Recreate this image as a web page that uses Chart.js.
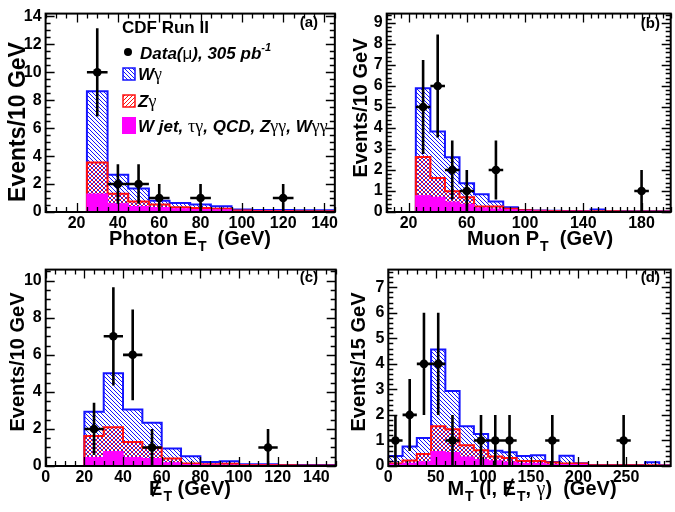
<!DOCTYPE html>
<html><head><meta charset="utf-8">
<script src="https://cdn.jsdelivr.net/npm/chart.js@4.4.1/dist/chart.umd.min.js"></script>
<style>
html,body{margin:0;padding:0;background:#fff}
body{width:675px;height:512px;position:relative;overflow:hidden;font-family:"Liberation Sans",Arial,Helvetica,sans-serif;color:#000}
.pan{position:absolute}
.t{position:absolute;transform:translateX(-50%);font-weight:bold;font-size:20px;line-height:20px;white-space:nowrap}
.yt{position:absolute;transform:translate(-50%,-50%) rotate(-90deg);font-weight:bold;font-size:20px;line-height:20px;white-space:nowrap}
.sub{font-size:14px;position:relative;top:6px;margin-left:1px}
.met{position:relative;display:inline-block}
.met::after{content:'';position:absolute;left:45%;top:0px;width:2px;height:19px;background:#000;transform:rotate(22deg)}
.gr{font-family:"Liberation Serif",serif;font-weight:normal}
</style></head><body>
<div class="pan" style="left:0;top:0;width:340px;height:256px"><canvas id="ca"></canvas></div>
<div class="pan" style="left:340px;top:0;width:335px;height:256px"><canvas id="cb"></canvas></div>
<div class="pan" style="left:0;top:256px;width:340px;height:256px"><canvas id="cc"></canvas></div>
<div class="pan" style="left:340px;top:256px;width:335px;height:256px"><canvas id="cd"></canvas></div>

<div class="t" style="left:190px;top:228px">Photon E<span class="sub">T</span>&nbsp;&nbsp;(GeV)</div>
<div class="t" style="left:540px;top:228px">Muon P<span class="sub">T</span>&nbsp;&nbsp;(GeV)</div>
<div class="t" style="left:190px;top:478px"><span class="met">E</span><span class="sub">T</span> (GeV)</div>
<div class="t" style="left:532px;top:478px">M<span class="sub">T</span> (l, <span class="met">E</span><span class="sub">T</span>, <span class="gr">γ</span>)&nbsp;&nbsp;(GeV)</div>

<div class="yt" style="left:17px;top:122px;font-size:23px">Events/10 GeV</div>
<div class="yt" style="left:360px;top:108px">Events/10 GeV</div>
<div class="yt" style="left:17px;top:362px">Events/10 GeV</div>
<div class="yt" style="left:358px;top:362px">Events/15 GeV</div>

<script>
// ---------------- DATA ----------------
// (a) Photon ET, 10 GeV bins (low edges)
const aBinLow = [5,15,25,35,45,55,65,75,85,95,105,115,125,135];
const aWgamma = [0,0,5.10,1.37,0.94,0.27,0.30,0.25,0.18,0.07,0.07,0.07,0.06,0.06];
const aZgamma = [0,0,2.26,0.71,0.36,0.22,0.11,0.10,0.08,0.05,0.04,0.03,0.03,0.03];
const aOther  = [0,0,1.29,0.59,0.39,0.32,0.23,0.18,0.15,0.05,0.04,0.04,0.03,0.03];
const aDataX  = [30,40,50,60,80,120];
const aDataY  = [10,2,2,1,1,1];
const aDataErr= [3.16,1.41,1.41,1,1,1];
const aXTicks = [20,40,60,80,100,120,140];
const aYTicks = [0,2,4,6,8,10,12,14];

// (b) Muon PT, 10 GeV bins
const bBinLow = [5,15,25,35,45,55,65,75,85,95,105,115,125,135,145,155,165,175,185,195];
const bWgamma = [0,0,3.28,2.21,1.62,0.67,0.58,0.24,0.08,0.02,0.01,0.01,0.01,0.01,0.08,0.01,0.01,0.01,0.01,0.01];
const bZgamma = [0,0,1.85,0.92,0.52,0.34,0.08,0.12,0.05,0.03,0.02,0.02,0.01,0.01,0.02,0.01,0.01,0.01,0.01,0.01];
const bOther  = [0,0,0.77,0.70,0.47,0.36,0.18,0.14,0.10,0.05,0.04,0.03,0.03,0.03,0.02,0.02,0.01,0.01,0.01,0.01];
const bDataX  = [30,40,50,60,80,180];
const bDataY  = [5,6,2,1,2,1];
const bDataErr= [2.24,2.45,1.41,1,1.41,1];
const bXTicks = [20,60,100,140,180];
const bYTicks = [0,1,2,3,4,5,6,7,8,9];

// (c) Missing ET, 10 GeV bins
const cBinLow = [0,10,20,30,40,50,60,70,80,90,100,110,120,130,140];
const cWgamma = [0,0,1.31,2.91,1.75,1.35,0.55,0.38,0.12,0.14,0.05,0.05,0.02,0.02,0.02];
const cZgamma = [0,0,1.17,1.31,0.85,0.58,0.23,0.06,0.05,0.07,0.02,0.02,0.02,0.01,0.01];
const cOther  = [0,0,0.45,0.78,0.45,0.40,0.17,0.08,0.05,0.05,0.03,0.03,0.02,0.02,0.02];
const cDataX  = [25,35,45,55,115];
const cDataY  = [2,7,6,1,1];
const cDataErr= [1.41,2.65,2.45,1,1];
const cXTicks = [0,20,40,60,80,100,120,140];
const cYTicks = [0,2,4,6,8,10];

// (d) MT(l, MET, gamma), 15 GeV bins
const dBinLow = [0,15,30,45,60,75,90,105,120,135,150,165,180,195,210,225,240,255,270,285];
const dWgamma = [0.29,0.54,0.63,3.00,1.50,0.75,0.63,0.23,0.23,0.19,0.22,0.02,0.30,0.01,0.01,0.01,0.01,0.01,0.12,0.01];
const dZgamma = [0.04,0.12,0.31,1.00,0.92,0.46,0.37,0.17,0.16,0.10,0.10,0.09,0.05,0.05,0.01,0.01,0.01,0.01,0.01,0.01];
const dOther  = [0.06,0.10,0.16,0.56,0.52,0.35,0.25,0.20,0.15,0.10,0.10,0.05,0.05,0.05,0.02,0.02,0.02,0.02,0.02,0.01];
const dDataX  = [7.5,22.5,37.5,52.5,67.5,97.5,112.5,127.5,172.5,247.5];
const dDataY  = [1,2,4,4,1,1,1,1,1,1];
const dDataErr= [1,1.41,2,2,1,1,1,1,1,1];
const dXTicks = [0,50,100,150,200,250];
const dYTicks = [0,1,2,3,4,5,6,7];

// ---------------- STYLE ----------------
const FONT = '"Liberation Sans", Arial, Helvetica, sans-serif';
Chart.defaults.font.family = FONT;
Chart.defaults.color = '#000';
const BLUE = '#1414ff', RED = '#ff1010', MAG = '#ff00ff';

function hatch(color, dir) {
  const s = 4, c = document.createElement('canvas');
  c.width = s; c.height = s;
  const g = c.getContext('2d');
  g.strokeStyle = color; g.lineWidth = 1; g.beginPath();
  if (dir > 0) {
    g.moveTo(-1,-1); g.lineTo(s+1,s+1);
    g.moveTo(-1,s-1); g.lineTo(1,s+1);
    g.moveTo(s-1,-1); g.lineTo(s+1,1);
  } else {
    g.moveTo(-1,s+1); g.lineTo(s+1,-1);
    g.moveTo(-1,1); g.lineTo(1,-1);
    g.moveTo(s-1,s+1); g.lineTo(s+1,s-1);
  }
  g.stroke();
  return document.createElement('canvas').getContext('2d').createPattern(c, 'repeat');
}
const blueHatch = hatch(BLUE, 1);
const redHatch = hatch(RED, -1);

function histPoints(low, width, vals) {
  const pts = low.map((x, i) => ({x: x, y: vals[i]}));
  pts.push({x: low[low.length-1] + width, y: vals[vals.length-1]});
  return pts;
}
function errPoints(xs, ys, es, hw) {
  const pts = [];
  xs.forEach((x, i) => {
    pts.push({x: x, y: ys[i]-es[i]}, {x: x, y: ys[i]+es[i]}, {x: x, y: null});
    pts.push({x: x-hw, y: ys[i]}, {x: x+hw, y: ys[i]}, {x: x+hw+0.001, y: null});
  });
  return pts;
}

function framePlugin(cfg) {
  return {
    id: 'frame',
    afterDatasetsDraw(chart) {
      const {ctx, chartArea: a, scales: {x, y}} = chart;
      ctx.save();
      ctx.strokeStyle = '#000'; ctx.lineWidth = 1.3; ctx.beginPath();
      const near = (arr, v) => arr.some(t => Math.abs(t - v) < 1e-6);
      for (let n = Math.ceil(x.min / cfg.xMinor - 1e-9); n * cfg.xMinor <= x.max + 1e-9; n++) {
        const v = n * cfg.xMinor, p = Math.round(x.getPixelForValue(v)) + 0.5;
        const L = near(cfg.xTicks, v) ? 9 : 5;
        ctx.moveTo(p, a.bottom); ctx.lineTo(p, a.bottom - L);
        ctx.moveTo(p, a.top); ctx.lineTo(p, a.top + L);
      }
      for (let n = Math.ceil(y.min / cfg.yMinor - 1e-9); n * cfg.yMinor <= y.max + 1e-9; n++) {
        const v = n * cfg.yMinor, p = Math.round(y.getPixelForValue(v)) + 0.5;
        const L = near(cfg.yTicks, v) ? 9 : 5;
        ctx.moveTo(a.left, p); ctx.lineTo(a.left + L, p);
        ctx.moveTo(a.right, p); ctx.lineTo(a.right - L, p);
      }
      ctx.stroke();
      ctx.lineWidth = 2;
      ctx.strokeRect(a.left, a.top, a.right - a.left, a.bottom - a.top);
      if (cfg.draw) cfg.draw(ctx);
      ctx.restore();
    }
  };
}

function runs(ctx, x, y, parts) {
  for (const p of parts) {
    ctx.font = p[1];
    ctx.fillText(p[0], x, y + (p[2] || 0));
    x += ctx.measureText(p[0]).width;
  }
}

function label(ctx, text, xRight, yBase) {
  ctx.fillStyle = '#000'; ctx.textAlign = 'right'; ctx.textBaseline = 'alphabetic';
  ctx.font = 'bold 15px ' + FONT;
  ctx.fillText(text, xRight, yBase);
  ctx.textAlign = 'left';
}

function drawLegendA(ctx) {
  const BI = 'italic bold 17px ' + FONT, GR = '18px "Liberation Serif", serif';
  ctx.fillStyle = '#000'; ctx.textAlign = 'left'; ctx.textBaseline = 'alphabetic';
  ctx.font = 'bold 17px ' + FONT;
  ctx.fillText('CDF Run II', 122, 33);
  // data marker
  ctx.beginPath(); ctx.arc(128, 52, 4, 0, Math.PI * 2); ctx.fill();
  runs(ctx, 140, 59, [['Data(', BI], ['μ', '17px ' + FONT], ['), 305 pb', BI], ['-1', 'italic bold 11px ' + FONT, -8]]);
  // W gamma box
  ctx.fillStyle = blueHatch; ctx.fillRect(123, 68, 12, 12);
  ctx.strokeStyle = BLUE; ctx.lineWidth = 1.5; ctx.strokeRect(123, 68, 12, 12);
  ctx.fillStyle = '#000';
  runs(ctx, 138, 80, [['W', BI], ['γ', GR]]);
  // Z gamma box
  ctx.fillStyle = redHatch; ctx.fillRect(123, 95, 12, 12);
  ctx.strokeStyle = RED; ctx.strokeRect(123, 95, 12, 12);
  ctx.fillStyle = '#000';
  runs(ctx, 138, 107, [['Z', BI], ['γ', GR]]);
  // other
  ctx.fillStyle = MAG; ctx.fillRect(122, 117, 14, 17);
  ctx.fillStyle = '#000';
  runs(ctx, 138, 132, [['W jet, ', BI], ['τγ', GR], [', QCD, Z', BI], ['γγ', GR], [', W', BI], ['γγ', GR]]);
  label(ctx, '(a)', 318, 27);
}

function makePanel(id, P) {
  const ds = [
    {label: 'other', data: histPoints(P.binLow, P.binW, P.other), stack: 'mc', order: 0,
     borderColor: MAG, backgroundColor: MAG, borderWidth: 1.2, fill: 'origin'},
    {label: 'Zgamma', data: histPoints(P.binLow, P.binW, P.zg), stack: 'mc', order: 1,
     borderColor: RED, backgroundColor: redHatch, borderWidth: 2, fill: 'origin'},
    {label: 'Wgamma', data: histPoints(P.binLow, P.binW, P.wg), stack: 'mc', order: 2,
     borderColor: BLUE, backgroundColor: blueHatch, borderWidth: 2, fill: 'origin'},
    {label: 'err', data: errPoints(P.dx, P.dy, P.de, P.hw), stack: 'err', order: -1,
     borderColor: '#000', borderWidth: 2.6, pointRadius: 0, spanGaps: false, fill: false, stepped: false},
    {label: 'data', data: P.dx.map((x, i) => ({x: x, y: P.dy[i]})), stack: 'pts', order: -2,
     showLine: false, pointRadius: 4.3, pointBackgroundColor: '#000', pointBorderColor: '#000', pointBorderWidth: 0, fill: false, stepped: false}
  ];
  ds.forEach((d, i) => { if (i < 3) { d.stepped = 'before'; d.pointRadius = 0; } d.tension = 0; });
  const tickFont = {family: FONT, weight: 'bold', size: 16};
  return new Chart(document.getElementById(id), {
    type: 'line',
    data: {datasets: ds},
    options: {
      responsive: true, maintainAspectRatio: false, animation: false,
      layout: {padding: {left: 0, right: P.padR, top: 5, bottom: 0}},
      plugins: {legend: {display: false}, tooltip: {enabled: false}},
      scales: {
        x: {type: 'linear', min: P.xmin, max: P.xmax,
            grid: {display: false, drawTicks: false}, border: {display: false},
            ticks: {font: tickFont, padding: 2, maxRotation: 0, autoSkip: false},
            afterBuildTicks: s => { s.ticks = P.xTicks.map(v => ({value: v})); },
            afterFit: s => { s.height = P.xH; }},
        y: {type: 'linear', min: 0, max: P.ymax, stacked: true,
            grid: {display: false, drawTicks: false}, border: {display: false},
            ticks: {font: {family: FONT, weight: 'bold', size: 16}, padding: 4, autoSkip: false},
            afterBuildTicks: s => { s.ticks = P.yTicks.map(v => ({value: v})); },
            afterFit: s => { s.width = P.yW; }}
      }
    },
    plugins: [framePlugin({xMinor: P.xMinor, yMinor: P.yMinor, xTicks: P.xTicks, yTicks: P.yTicks, draw: P.draw})]
  });
}

makePanel('ca', {binLow: aBinLow, binW: 10, wg: aWgamma, zg: aZgamma, other: aOther,
  dx: aDataX, dy: aDataY, de: aDataErr, hw: 5, xmin: 5, xmax: 145, ymax: 14.2,
  xTicks: aXTicks, yTicks: aYTicks, xMinor: 5, yMinor: 0.5, padR: 3, xH: 44, yW: 45.6,
  draw: drawLegendA});
makePanel('cb', {binLow: bBinLow, binW: 10, wg: bWgamma, zg: bZgamma, other: bOther,
  dx: bDataX, dy: bDataY, de: bDataErr, hw: 5, xmin: 5, xmax: 200, ymax: 9.45,
  xTicks: bXTicks, yTicks: bYTicks, xMinor: 5, yMinor: 0.2, padR: 2, xH: 44, yW: 46.7,
  draw: ctx => label(ctx, '(b)', 320, 28)});
makePanel('cc', {binLow: cBinLow, binW: 10, wg: cWgamma, zg: cZgamma, other: cOther,
  dx: cDataX, dy: cDataY, de: cDataErr, hw: 5, xmin: 0, xmax: 150, ymax: 10.6,
  xTicks: cXTicks, yTicks: cYTicks, xMinor: 5, yMinor: 0.5, padR: 3, xH: 46, yW: 45.7,
  draw: ctx => label(ctx, '(c)', 318, 26)});
makePanel('cd', {binLow: dBinLow, binW: 15, wg: dWgamma, zg: dZgamma, other: dOther,
  dx: dDataX, dy: dDataY, de: dDataErr, hw: 7.5, xmin: 0, xmax: 297, ymax: 7.69,
  xTicks: dXTicks, yTicks: dYTicks, xMinor: 10, yMinor: 0.2, padR: 2, xH: 46, yW: 48.3,
  draw: ctx => label(ctx, '(d)', 320, 26)});
</script>
</body></html>
